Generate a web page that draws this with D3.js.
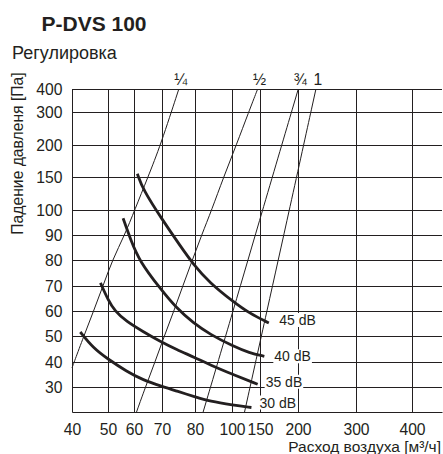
<!DOCTYPE html>
<html>
<head>
<meta charset="utf-8">
<script src="https://cdn.jsdelivr.net/npm/d3@7"></script>
<style>
    body { margin: 0; background: #fff; }
    svg { display: block; font-family: "Liberation Sans", Arial, sans-serif; }
</style>
</head>
<body>
<div id="chart"></div>
<script>
// axis tick values (nomogram grid)
const xTicks = [40, 50, 60, 70, 80, 100, 150, 200, 300, 400];
const yTicks = [30, 40, 50, 60, 70, 80, 90, 100, 150, 200, 300, 400];
const xMax = 450;   // right edge of the grid
const yMin = 20;    // bottom edge of the grid

// sound level curves: [airflow m3/h, pressure drop Pa]
const dbLabels = ["45 dB", "40 dB", "35 dB", "30 dB"];
const curve45 = [[61.2, 155], [63.2, 131], [70, 96.3], [75.4, 85.9], [79.5, 78.3], [88, 71.2], [101.8, 63.8], [131, 59.1], [161.6, 55.2]];
const curve40 = [[55.8, 96.7], [58.7, 88.1], [62, 79.5], [69.2, 69.2], [74.4, 61.1], [79.5, 55.2], [88, 50.7], [101.8, 46.1], [131, 43.5], [155.7, 42.2]];
const curve35 = [[47.9, 71.2], [50, 64.5], [52.6, 60], [57.1, 55.8], [63.2, 51.8], [69.2, 48], [74.4, 44.8], [80, 41.7], [88, 38.9], [101.8, 35], [145.8, 31.1]];
const curve30 = [[42.3, 51.6], [45.8, 45.5], [50, 41.1], [57.1, 36.3], [63.2, 32.8], [70, 30.2], [74.4, 28.4], [80, 26.1], [88, 24.3], [101.8, 22.8], [134.7, 21.8]];

// damper setting lines
const settingLabels = ["¼", "½", "¾", "1"];
const setting14 = [[75.1, 400], [69.5, 200], [65, 150], [60.25, 100], [56.4, 90], [51.7, 80], [48.6, 70], [46, 60], [43.3, 50], [40.6, 40], [40, 37.6]];
const setting12 = [[145.8, 400], [129.9, 300], [107.7, 200], [95.5, 150], [89, 100], [83.6, 90], [79.2, 80], [76.3, 70], [73.6, 60], [70.7, 50], [67.5, 40], [64.1, 30], [60.9, 20]];
const setting34 = [[200.5, 400], [153.4, 100], [101.9, 60], [84.4, 20]];
const setting1 = [[230.9, 400], [188.6, 100], [159.1, 60], [122.4, 20]];

// layout
const width = 443, height = 454;
const margin = { top: 89, left: 72 };
const ink = "#231f20";
// pixels between neighbouring grid lines (left to right / top to bottom)
const xGaps = [36, 26, 28, 33, 37, 28, 38, 58, 56, 30];
const yGaps = [23, 33, 32, 33, 25, 25, 26, 25, 25, 26, 25, 25];
const dbLabelShift = [[10.5, 2], [10, 5], [8, 2.5], [8, 0]];

const plotW = d3.sum(xGaps);
const plotH = d3.sum(yGaps);

const svg = d3.select("#chart")
    .append("svg")
    .attr("width", width)
    .attr("height", height);

// piecewise scales following the printed grid
const x = d3.scaleLinear()
    .domain([...xTicks, xMax])
    .range([0, ...d3.cumsum(xGaps)]);

const y = d3.scaleLinear()
    .domain([...yTicks, yMin].sort((a, b) => b - a))
    .range([0, ...d3.cumsum(yGaps)]);

const g = svg.append("g")
    .attr("transform", `translate(${margin.left},${margin.top})`);

// grid + axes
const xAxis = g.append("g")
    .attr("transform", `translate(0,${plotH})`)
    .call(d3.axisBottom(x)
        .tickValues(xTicks)
        .tickFormat(d3.format("d"))
        .tickSize(-plotH)
        .tickSizeOuter(0)
        .tickPadding(12));

const yAxis = g.append("g")
    .call(d3.axisLeft(y)
        .tickValues(yTicks)
        .tickFormat(d3.format("d"))
        .tickSize(-plotW)
        .tickSizeOuter(0)
        .tickPadding(9.5));

[xAxis, yAxis].forEach(a => {
    a.attr("font-family", null)
        .attr("font-size", null)
        .style("color", ink);
    a.selectAll("line, path").attr("stroke-width", 1);
    a.selectAll("text").style("font-size", "15.7px");
});

// damper setting lines
const settingLine = d3.line()
    .x(d => x(d[0]))
    .y(d => y(d[1]))
    .curve(d3.curveBasis);

const settings = [setting14, setting12, setting34, setting1];

g.selectAll(".setting")
    .data(settings)
    .enter()
    .append("path")
    .attr("class", "setting")
    .attr("d", settingLine)
    .attr("fill", "none")
    .attr("stroke", ink)
    .attr("stroke-width", 1);

g.selectAll(".setting-label")
    .data(settings)
    .enter()
    .append("text")
    .attr("class", "setting-label")
    .attr("x", d => x(d[0][0]) + 2)
    .attr("y", -4)
    .attr("text-anchor", "middle")
    .style("font-size", "15.7px")
    .style("fill", ink)
    .text((d, i) => settingLabels[i]);

// sound level curves (smoothed through the read points)
const curveLine = d3.line()
    .x(d => x(d[0]))
    .y(d => y(d[1]))
    .curve(d3.curveBasis);

const curves = [curve45, curve40, curve35, curve30];

g.selectAll(".db-curve")
    .data(curves)
    .enter()
    .append("path")
    .attr("class", "db-curve")
    .attr("d", curveLine)
    .attr("fill", "none")
    .attr("stroke", ink)
    .attr("stroke-width", 2.8);

// dB labels on white boxes
curves.forEach((c, i) => {
    const end = c[c.length - 1];
    const lab = g.append("g");
    const t = lab.append("text")
        .attr("x", x(end[0]) + dbLabelShift[i][0])
        .attr("y", y(end[1]) + dbLabelShift[i][1])
        .style("font-size", "14px")
        .style("fill", ink)
        .text(dbLabels[i]);
    const b = t.node().getBBox();
    lab.insert("rect", "text")
        .attr("x", b.x - 1)
        .attr("y", b.y + 1)
        .attr("width", b.width + 2)
        .attr("height", b.height - 2)
        .attr("fill", "#fff");
});

// titles
svg.append("text")
    .attr("x", 41.5)
    .attr("y", 30.5)
    .style("font-size", "21px")
    .style("font-weight", "bold")
    .style("fill", ink)
    .text("P-DVS 100");

svg.append("text")
    .attr("x", 12)
    .attr("y", 59)
    .style("font-size", "18px")
    .style("fill", ink)
    .text("Регулировка");

// y-axis label
svg.append("text")
    .attr("transform", "translate(23,153.5) rotate(-90)")
    .attr("text-anchor", "middle")
    .style("font-size", "15.7px")
    .style("fill", ink)
    .text("Падение давленя [Па]");

// x-axis label
svg.append("text")
    .attr("x", 441)
    .attr("y", 451.5)
    .attr("text-anchor", "end")
    .style("font-size", "15.5px")
    .style("fill", ink)
    .text("Расход воздуха [м³/ч]");
</script>
</body>
</html>
